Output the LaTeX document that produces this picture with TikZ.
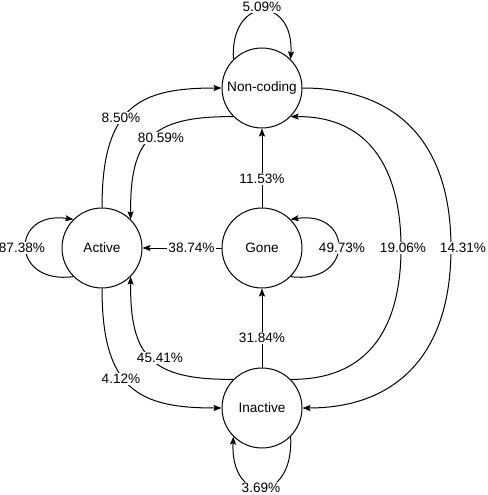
\documentclass[tikz,border=0pt]{standalone}
\usepackage{fontspec}
\setmainfont{Liberation Sans}
\usetikzlibrary{arrows.meta}
\newcommand\labfs{\fontsize{13.6}{16}\selectfont}
\begin{document}
\begin{tikzpicture}[x=1pt,y=-1pt,
  state/.style={circle,draw,line width=1pt,minimum size=80pt,inner sep=0pt,font=\labfs},
  lbl/.style={fill=white,inner sep=1pt,font=\labfs},
  conn/.style={line width=1pt,-{Stealth[length=8pt,width=6pt,inset=1.5pt]}},
]
\useasboundingbox (0,0) rectangle (487,495);
\fill[white] (0,0) rectangle (487,495);
\node[state] (nc) at (262,88) {Non-coding};
\node[state] (act) at (102,248) {Active};
\node[state] (gone) at (262,248) {Gone};
\node[state] (ina) at (262,408) {Inactive};
% self loops
\draw[conn] (nc.135) .. controls (230,-5) and (294,-5) .. (nc.45);
\draw[conn] (act.225) .. controls (10,285) and (10,210) .. (act.135);
\draw[conn] (gone.-45) .. controls (354,285) and (354,210) .. (gone.45);
\draw[conn] (ina.-45) .. controls (294,505) and (230,505) .. (ina.-135);
% left side
\draw[conn] (act.north) .. controls (102,105) and (140,88) .. (nc.west);
\draw[conn] (nc.225) .. controls (150,116) and (130,140) .. (act.45);
\draw[conn] (ina.135) .. controls (150,380) and (130,356) .. (act.-45);
\draw[conn] (act.south) .. controls (102,391) and (140,408) .. (ina.west);
% straight
\draw[conn] (gone) -- (nc);
\draw[conn] (ina) -- (gone);
\draw[conn] (gone) -- (act);
% right side
\coordinate (m19) at (401,248);
\draw[conn] (ina.45) .. controls (370,380) and (401,326) .. (m19) .. controls (401,170) and (370,116) .. (nc.-45);
\coordinate (m14) at (451,248);
\draw[conn] (nc.east) .. controls (395,88) and (451,140) .. (m14) .. controls (451,356) and (395,408) .. (ina.east);
% labels
\node[lbl] (l509) at (262,7) {5.09\%};
\node[lbl] (l850) at (121,118) {8.50\%};
\node[lbl] (l8059) at (161,138) {80.59\%};
\node[lbl] (l1153) at (262,179) {11.53\%};
\node[lbl] (l8738) at (22,248) {87.38\%};
\node[lbl] (l3874) at (191.5,248) {38.74\%};
\node[lbl] (l4973) at (342,248) {49.73\%};
\node[lbl] (l1906) at (403,248) {19.06\%};
\node[lbl] (l1431) at (463,248) {14.31\%};
\node[lbl] (l3184) at (262,338) {31.84\%};
\node[lbl] (l4541) at (160,358) {45.41\%};
\node[lbl] (l412) at (121,379) {4.12\%};
\node[lbl] (l369) at (261,488) {3.69\%};
\end{tikzpicture}
\end{document}
